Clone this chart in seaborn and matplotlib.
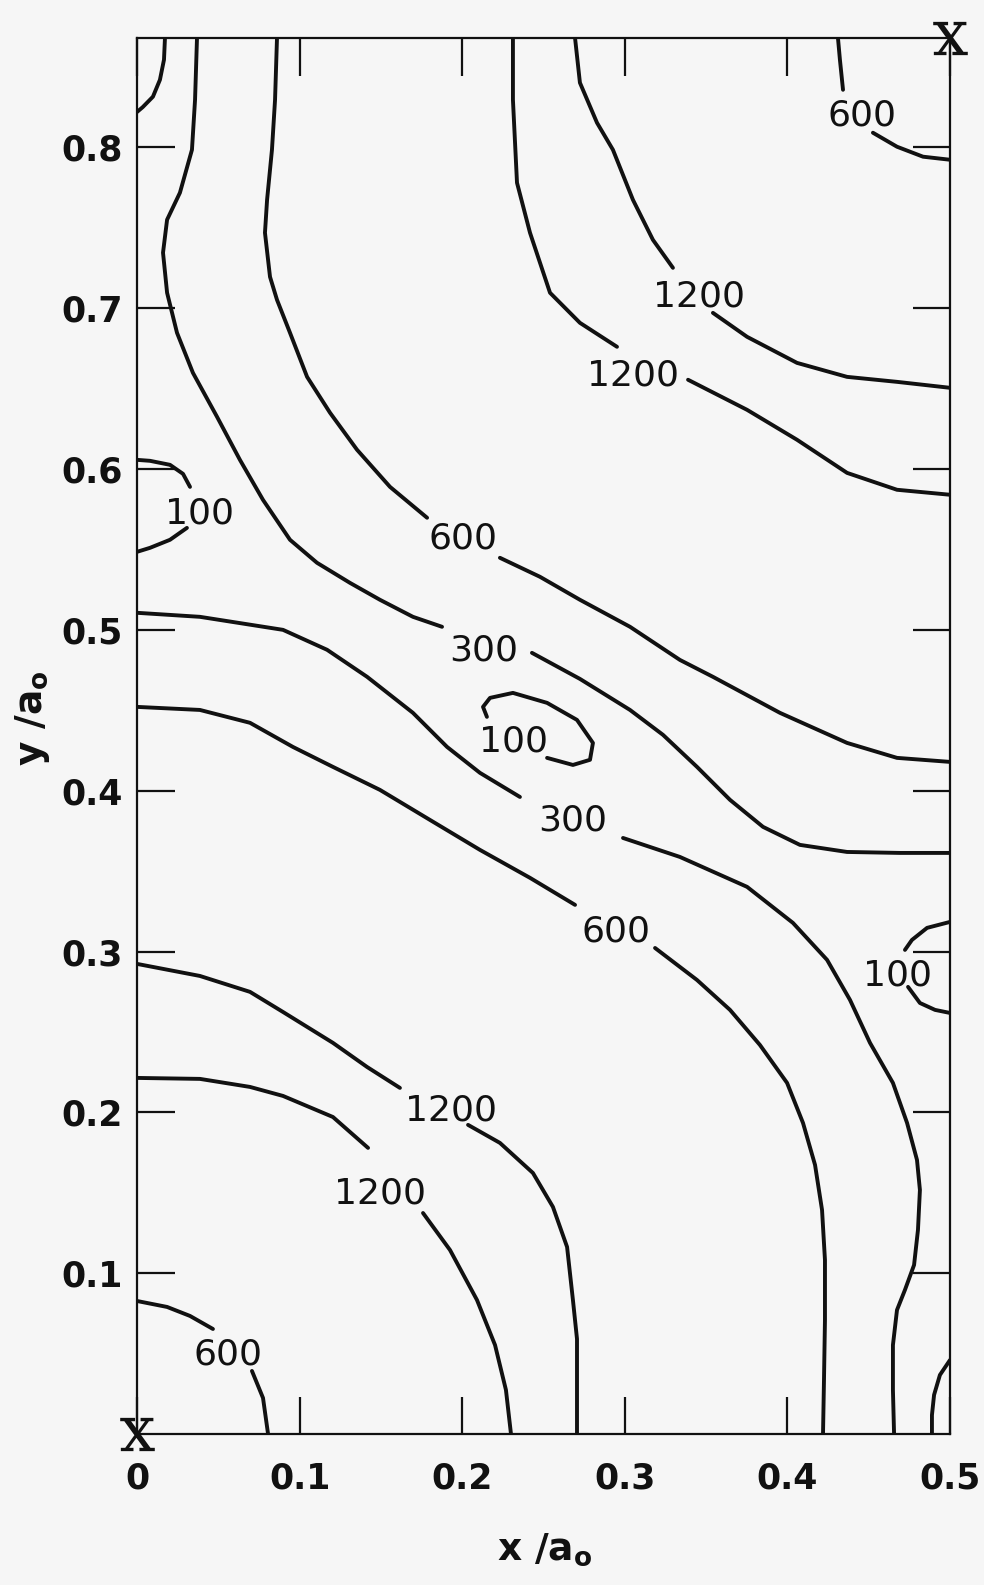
import matplotlib
matplotlib.use("Agg")
import matplotlib.pyplot as plt
import pandas as pd
import seaborn as sns

# ---------------- data (in x/a0, y/a0 units) ----------------
# contour 100 (unlabelled) in upper-left corner
c100_corner_x = [0.0172, 0.0166, 0.0141, 0.0098, 0.0035, 0.0]
c100_corner_y = [0.868, 0.8545, 0.842, 0.8315, 0.8250, 0.822]
# contour 100 on left edge
c100_left_a_x = [0.0, 0.008, 0.0203, 0.0283, 0.0326]
c100_left_a_y = [0.6057, 0.6051, 0.6026, 0.597, 0.5889]
c100_left_b_x = [0.0307, 0.0203, 0.008, 0.0]
c100_left_b_y = [0.5634, 0.556, 0.551, 0.5485]
# contour 100 small oval in the middle
c100_mid_x = [0.2152, 0.2128, 0.2171, 0.2312, 0.2522, 0.2706, 0.2804, 0.2786, 0.2681, 0.2522]
c100_mid_y = [0.4459, 0.4521, 0.4577, 0.4608, 0.4546, 0.444, 0.4297, 0.4192, 0.416, 0.4204]
# contour 100 on right edge
c100_right_a_x = [0.5, 0.4859, 0.4766, 0.4723]
c100_right_a_y = [0.3184, 0.3147, 0.3072, 0.301]
c100_right_b_x = [0.4742, 0.4815, 0.4908, 0.5]
c100_right_b_y = [0.278, 0.268, 0.2637, 0.2618]
# contour 100 bottom-right corner
c100_br_x = [0.5, 0.4938, 0.4902, 0.4889, 0.4889]
c100_br_y = [0.046, 0.0367, 0.0243, 0.0118, 0.0]

# contour 300 (upper)
c300_up_a_x = [0.0369, 0.0357, 0.0338, 0.0264, 0.0185, 0.016, 0.0185, 0.0246, 0.0344,
               0.0492, 0.0633, 0.0775, 0.0941, 0.1107, 0.131, 0.1494, 0.1697, 0.1876]
c300_up_a_y = [0.868, 0.8296, 0.7985, 0.7718, 0.755, 0.7345, 0.7096, 0.6847, 0.6598,
               0.6325, 0.6057, 0.5808, 0.556, 0.5417, 0.5292, 0.5187, 0.5081, 0.5019]
c300_up_b_x = [0.2429, 0.2724, 0.3032, 0.3235, 0.3444, 0.3647, 0.385, 0.4077, 0.4367, 0.4692, 0.5]
c300_up_b_y = [0.4857, 0.4695, 0.4502, 0.4347, 0.4148, 0.3943, 0.3775, 0.3663, 0.3619, 0.3613, 0.3613]
# contour 300 (lower)
c300_lo_a_x = [0.0, 0.0387, 0.0898, 0.1169, 0.1415, 0.1697, 0.1907, 0.2109, 0.2355]
c300_lo_a_y = [0.5106, 0.5081, 0.5, 0.4876, 0.4708, 0.4484, 0.4272, 0.4111, 0.3961]
c300_lo_b_x = [0.2989, 0.3339, 0.3752, 0.4034, 0.4244, 0.4385, 0.4508, 0.4649, 0.4736, 0.4797,
               0.4815, 0.4803, 0.4779, 0.4723, 0.4674, 0.4649, 0.4649, 0.4656]
c300_lo_b_y = [0.3706, 0.3588, 0.3402, 0.3178, 0.2948, 0.2699, 0.2432, 0.2183, 0.1934, 0.1704,
               0.1517, 0.1269, 0.1051, 0.0896, 0.0771, 0.0553, 0.0274, 0.0]

# contour 600 (upper)
c600_up_a_x = [0.0861, 0.0849, 0.083, 0.08, 0.0787, 0.0818, 0.0861, 0.0941, 0.1046, 0.1187,
               0.1353, 0.1556, 0.1784]
c600_up_a_y = [0.868, 0.8296, 0.7985, 0.7674, 0.7469, 0.7195, 0.7052, 0.6847, 0.6573, 0.635,
               0.612, 0.5889, 0.5697]
c600_up_b_x = [0.2232, 0.2478, 0.2724, 0.3032, 0.3339, 0.3542, 0.3954, 0.4367, 0.4674, 0.5]
c600_up_b_y = [0.5448, 0.533, 0.5187, 0.5019, 0.4813, 0.4708, 0.4484, 0.4297, 0.4204, 0.4179]
# contour 600 (lower)
c600_lo_a_x = [0.0, 0.0387, 0.0695, 0.0959, 0.1205, 0.1494, 0.1802, 0.2109, 0.2417, 0.2694]
c600_lo_a_y = [0.4521, 0.4502, 0.4422, 0.4272, 0.4148, 0.4005, 0.3818, 0.3632, 0.3458, 0.329]
c600_lo_b_x = [0.3186, 0.3444, 0.3647, 0.3831, 0.3998, 0.4096, 0.417, 0.4213, 0.4231, 0.4231,
               0.4225, 0.4219]
c600_lo_b_y = [0.3022, 0.2823, 0.2637, 0.2419, 0.2183, 0.1934, 0.1673, 0.1393, 0.1082, 0.0709,
               0.0336, 0.0]
# contour 600 top-right corner
c600_tr_a_x = [0.4311, 0.4323, 0.4342]
c600_tr_a_y = [0.868, 0.8545, 0.8358]
c600_tr_b_x = [0.4526, 0.4674, 0.4834, 0.5]
c600_tr_b_y = [0.8091, 0.8004, 0.7942, 0.7923]
# contour 600 bottom-left corner
c600_bl_a_x = [0.0, 0.0185, 0.0326, 0.0467]
c600_bl_a_y = [0.0827, 0.079, 0.0734, 0.0653]
c600_bl_b_x = [0.0707, 0.0775, 0.0806]
c600_bl_b_y = [0.0392, 0.0224, 0.0]

# contour 1200, top right (inner)
c1200_tr1_a_x = [0.2694, 0.2724, 0.2829, 0.2927, 0.305, 0.3173, 0.3296]
c1200_tr1_a_y = [0.868, 0.8402, 0.8153, 0.7985, 0.7674, 0.7425, 0.7251]
c1200_tr1_b_x = [0.3542, 0.3752, 0.4059, 0.4367, 0.4674, 0.5]
c1200_tr1_b_y = [0.6971, 0.6822, 0.666, 0.6573, 0.6542, 0.6505]
# contour 1200, top right (outer)
c1200_tr2_a_x = [0.2312, 0.2312, 0.2337, 0.2417, 0.254, 0.2724, 0.2952]
c1200_tr2_a_y = [0.868, 0.8296, 0.778, 0.7469, 0.7096, 0.6909, 0.676]
c1200_tr2_b_x = [0.3389, 0.3752, 0.4059, 0.4367, 0.4674, 0.5]
c1200_tr2_b_y = [0.6555, 0.6368, 0.6182, 0.5976, 0.5871, 0.584]
# contour 1200, bottom left (outer)
c1200_bl1_a_x = [0.0, 0.0387, 0.0695, 0.0898, 0.1205, 0.1415, 0.1617]
c1200_bl1_a_y = [0.2923, 0.2848, 0.2749, 0.2624, 0.2432, 0.2282, 0.2152]
c1200_bl1_b_x = [0.2036, 0.2232, 0.2435, 0.2558, 0.2645, 0.2681, 0.2706, 0.2706, 0.2706]
c1200_bl1_b_y = [0.1922, 0.181, 0.1623, 0.1412, 0.1163, 0.0833, 0.0591, 0.0274, 0.0]
# contour 1200, bottom left (inner)
c1200_bl2_a_x = [0.0, 0.0387, 0.0695, 0.0898, 0.1205, 0.1421]
c1200_bl2_a_y = [0.2214, 0.2208, 0.2158, 0.2102, 0.1971, 0.1779]
c1200_bl2_b_x = [0.1759, 0.1925, 0.2091, 0.2202, 0.2269, 0.23]
c1200_bl2_b_y = [0.1374, 0.1144, 0.0833, 0.0553, 0.0274, 0.0]

# inline contour labels
label_text = ["100", "100", "100", "300", "300", "600", "600", "600", "600",
              "1200", "1200", "1200", "1200"]
label_x = [0.0387, 0.2318, 0.468, 0.2134, 0.2681, 0.2005, 0.2946, 0.4459, 0.056,
           0.3456, 0.305, 0.1931, 0.1494]
label_y = [0.5746, 0.4328, 0.2873, 0.4894, 0.3837, 0.5591, 0.3147, 0.8221, 0.0516,
           0.7096, 0.6604, 0.2034, 0.1517]

# atom positions (crosses)
cross_x = [0.0, 0.5]
cross_y = [0.0, 0.868]

# axes ticks
x_ticks = [0.0, 0.1, 0.2, 0.3, 0.4, 0.5]
x_tick_labels = ["0", "0.1", "0.2", "0.3", "0.4", "0.5"]
y_ticks = [0.1, 0.2, 0.3, 0.4, 0.5, 0.6, 0.7, 0.8]
y_tick_labels = ["0.1", "0.2", "0.3", "0.4", "0.5", "0.6", "0.7", "0.8"]

segments = [
    (c100_corner_x, c100_corner_y), (c100_left_a_x, c100_left_a_y), (c100_left_b_x, c100_left_b_y),
    (c100_mid_x, c100_mid_y), (c100_right_a_x, c100_right_a_y), (c100_right_b_x, c100_right_b_y),
    (c100_br_x, c100_br_y),
    (c300_up_a_x, c300_up_a_y), (c300_up_b_x, c300_up_b_y),
    (c300_lo_a_x, c300_lo_a_y), (c300_lo_b_x, c300_lo_b_y),
    (c600_up_a_x, c600_up_a_y), (c600_up_b_x, c600_up_b_y),
    (c600_lo_a_x, c600_lo_a_y), (c600_lo_b_x, c600_lo_b_y),
    (c600_tr_a_x, c600_tr_a_y), (c600_tr_b_x, c600_tr_b_y),
    (c600_bl_a_x, c600_bl_a_y), (c600_bl_b_x, c600_bl_b_y),
    (c1200_tr1_a_x, c1200_tr1_a_y), (c1200_tr1_b_x, c1200_tr1_b_y),
    (c1200_tr2_a_x, c1200_tr2_a_y), (c1200_tr2_b_x, c1200_tr2_b_y),
    (c1200_bl1_a_x, c1200_bl1_a_y), (c1200_bl1_b_x, c1200_bl1_b_y),
    (c1200_bl2_a_x, c1200_bl2_a_y), (c1200_bl2_b_x, c1200_bl2_b_y),
]

# ---------------- style ----------------
BG = "#f6f6f6"
INK = "#111111"

sns.set_theme(style="white")
plt.rcParams["font.family"] = ["DejaVu Sans"]
plt.rcParams["mathtext.fontset"] = "dejavusans"

W, H = 984, 1585
fig = plt.figure(figsize=(W / 100, H / 100), dpi=100, facecolor=BG)
ax_left, ax_right, ax_top, ax_bottom = 137, 950, 38, 1434
ax = fig.add_axes([ax_left / W, (H - ax_bottom) / H,
                   (ax_right - ax_left) / W, (ax_bottom - ax_top) / H])
ax.set_facecolor(BG)

for sx, sy in segments:
    df = pd.DataFrame({"x": sx, "y": sy})
    sns.lineplot(data=df, x="x", y="y", sort=False, estimator=None,
                 color=INK, linewidth=2.8, ax=ax,
                 solid_joinstyle="round", solid_capstyle="round")

for t, lx, ly in zip(label_text, label_x, label_y):
    ax.text(lx, ly, t, ha="center", va="center_baseline", fontsize=26, color=INK)

with plt.rc_context({"mathtext.fontset": "dejavuserif"}):
    ax.scatter(cross_x, cross_y, marker=r"$\mathrm{x}$", s=620, color=INK,
               clip_on=False, zorder=6, linewidths=0)

ax.set_xlim(0, 0.5)
ax.set_ylim(0, 0.868)

ax.set_xticks(x_ticks)
ax.set_xticklabels(x_tick_labels)
ax.set_yticks(y_ticks)
ax.set_yticklabels(y_tick_labels)

ax.tick_params(axis="both", which="major", direction="in", length=27, width=1.6,
               color=INK, bottom=True, left=True, top=True, right=True,
               labelbottom=True, labelleft=True, labeltop=False, labelright=False,
               labelsize=25, labelcolor=INK)
ax.tick_params(axis="x", pad=20)
ax.tick_params(axis="y", pad=10)
for lab in ax.get_xticklabels() + ax.get_yticklabels():
    lab.set_fontweight("bold")

for sp in ax.spines.values():
    sp.set_visible(True)
    sp.set_color(INK)
    sp.set_linewidth(1.6)

ax.set_xlabel(r"x /a$_{\mathregular{o}}$", fontsize=27, fontweight="bold", color=INK)
ax.set_ylabel(r"y /a$_{\mathregular{o}}$", fontsize=27, fontweight="bold", color=INK)
ax.xaxis.label.set_va("center")
ax.yaxis.label.set_va("center")
ax.xaxis.set_label_coords(0.502, -0.083)
ax.yaxis.set_label_coords(-0.129, 0.513)

fig.savefig("out.png", dpi=100, facecolor=BG)
